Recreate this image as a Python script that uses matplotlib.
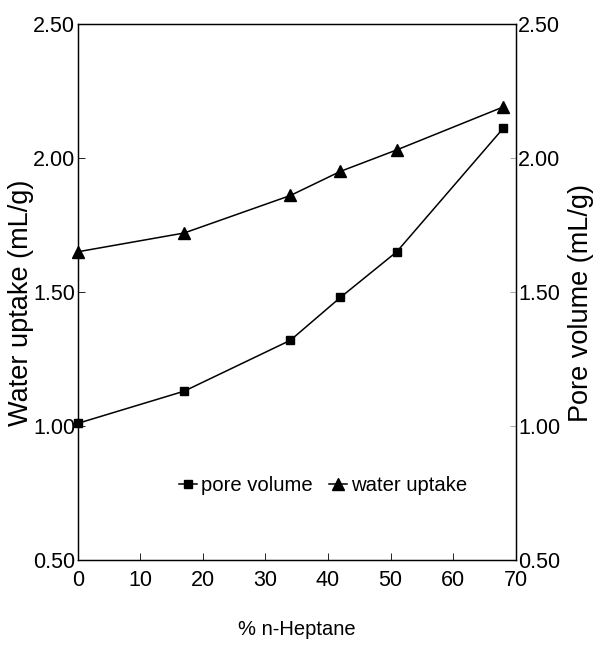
import numpy as np
import matplotlib
matplotlib.use('Agg')
import matplotlib.pyplot as plt

plt.rcParams['font.family'] = ['Liberation Sans', 'DejaVu Sans']

# data
heptane = [0, 17, 34, 42, 51, 68]
water_uptake = [1.65, 1.72, 1.86, 1.95, 2.03, 2.19]
pore_volume = [1.01, 1.13, 1.32, 1.48, 1.65, 2.11]
xticks = [0, 10, 20, 30, 40, 50, 60, 70]
yticks = [0.5, 1.0, 1.5, 2.0, 2.5]

fig = plt.figure(figsize=(5.94, 6.46), dpi=100)
ax = fig.add_axes([0.131, 0.133, 0.737, 0.83])
ax2 = ax.twinx()

ax.plot(heptane, water_uptake, color='black', linewidth=1.1, marker='^',
        markersize=8, clip_on=False, label='water uptake')
ax2.plot(heptane, pore_volume, color='black', linewidth=1.1, marker='s',
         markersize=6, clip_on=False, label='pore volume')

for a in (ax, ax2):
    a.set_ylim(0.5, 2.5)
    a.set_yticks(yticks)
    a.set_yticklabels(['%.2f' % v for v in yticks])
    for s in a.spines.values():
        s.set_linewidth(0.9)
ax.set_xlim(0, 70)
ax.set_xticks(xticks)

ax.tick_params(direction='in', length=5, width=0.6, labelsize=15.5, pad=2)
ax.tick_params(axis='x', pad=7)
ax2.tick_params(direction='in', length=4, width=0.5, color='gray',
                labelsize=15.5, pad=2)

ax.set_xlabel('% n-Heptane', fontsize=14.5)
ax.xaxis.set_label_coords(0.5, -0.112)
ax.set_ylabel('Water uptake (mL/g)', fontsize=19.5)
ax.yaxis.set_label_coords(-0.100, 0.48)
ax2.set_ylabel('Pore volume (mL/g)', fontsize=19.5)
ax2.yaxis.set_label_coords(1.120, 0.48)

h1, l1 = ax2.get_legend_handles_labels()
h2, l2 = ax.get_legend_handles_labels()
ax.legend(h1 + h2, l1 + l2, loc='center', bbox_to_anchor=(0.56, 0.139), ncol=2,
          frameon=False, fontsize=14.6, handlelength=0.9, handletextpad=0.2,
          columnspacing=0.8)

fig.savefig('out.png', dpi=100)
